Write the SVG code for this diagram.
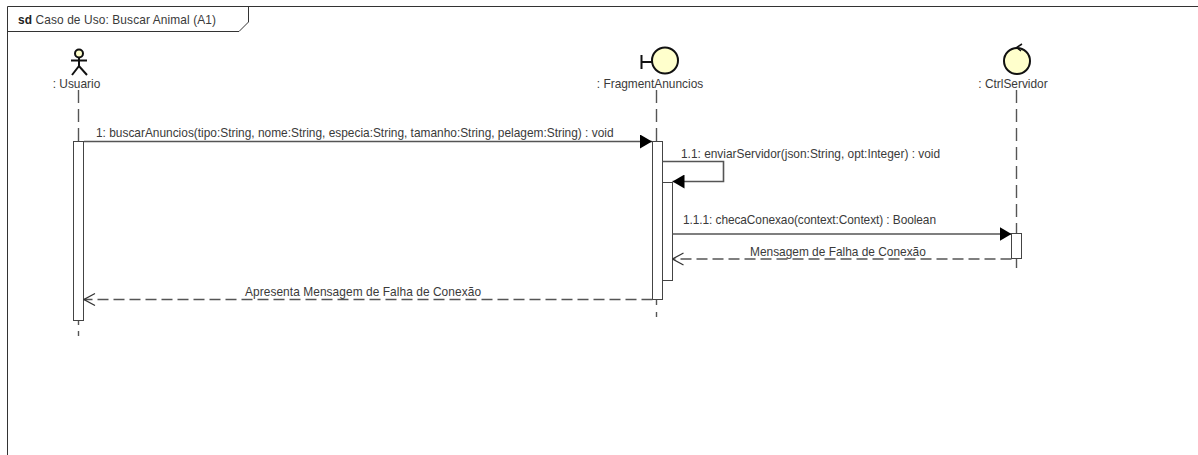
<svg xmlns="http://www.w3.org/2000/svg" width="1198" height="455" viewBox="0 0 1198 455">
<style>
text{font-family:"Liberation Sans",Arial,sans-serif;font-size:11.9px;fill:#3a3a3a}
.c{text-anchor:middle}
.ln{fill:none;stroke:#333;stroke-width:1}
.shape{fill:#ffffcc;stroke:#111;stroke-width:2}
.fig{fill:none;stroke:#111;stroke-width:2}
.life{fill:none;stroke:#555;stroke-width:1.400;stroke-dasharray:13 6}
.act{fill:#fff;stroke:#444;stroke-width:1}
.msg{fill:none;stroke:#555;stroke-width:1.600}
.ret{fill:none;stroke:#555;stroke-width:1.500;stroke-dasharray:11 5}
</style>
<defs>
<marker id="solid" markerUnits="userSpaceOnUse" markerWidth="13" markerHeight="14" refX="12" refY="7" orient="auto"><path d="M0 0L12 7L0 14Z" fill="#000"/></marker>
<marker id="open" markerUnits="userSpaceOnUse" markerWidth="13" markerHeight="14" refX="12" refY="6.5" orient="auto"><path d="M1 0.5L12 6.500L1 12.500" fill="none" stroke="#333" stroke-width="1.200"/></marker>
</defs>
<rect width="1198" height="455" fill="#fff"/>
<g id="frame">
<path class="ln" d="M1198 6.500H7.500V455"/>
<path class="ln" d="M7.500 31.500H239L248.500 22V6.500"/>
<text x="18" y="24" textLength="198"><tspan font-weight="bold" fill="#222">sd</tspan> Caso de Uso: Buscar Animal (A1)</text>
</g>
<g id="usuario">
<line class="life" x1="78.500" y1="90" x2="78.500" y2="141"/>
<line class="life" x1="78.500" y1="320" x2="78.500" y2="336" style="stroke-dasharray:5 6 10"/>
<circle class="shape" cx="79" cy="53.500" r="4"/>
<path class="fig" d="M71 60.500H87M79 57.500V66M72 75L79 66L87 75"/>
<text class="c" x="76.500" y="88">: Usuario</text>
<rect class="act" x="73.500" y="141.500" width="10" height="179"/>
</g>
<g id="fragmentAnuncios">
<line class="life" x1="656.500" y1="90" x2="656.500" y2="141"/>
<line class="life" x1="656.500" y1="300" x2="656.500" y2="317" style="stroke-dasharray:5 7 5"/>
<circle class="shape" cx="665" cy="60.500" r="13"/>
<path class="fig" d="M641.500 55V69M641.500 62H652"/>
<text class="c" x="650" y="88">: FragmentAnuncios</text>
<rect class="act" x="652.500" y="141.500" width="10" height="158"/>
<rect class="act" x="662.500" y="182.500" width="10" height="98"/>
</g>
<g id="ctrlServidor">
<line class="life" x1="1016.500" y1="90" x2="1016.500" y2="233"/>
<line class="life" x1="1016.500" y1="259" x2="1016.500" y2="268"/>
<circle class="shape" cx="1017" cy="61" r="13"/>
<path d="M1022 44L1016.500 47.500L1021 51" class="fig" style="stroke-width:1.500"/>
<text class="c" x="1013" y="88">: CtrlServidor</text>
<rect class="act" x="1011.500" y="233.500" width="10" height="25"/>
</g>
<g id="connectors">
<path class="msg" d="M84 141.500H652" marker-end="url(#solid)"/>
<path class="msg" d="M662.500 161.500H723.500V181.500H672.500" marker-end="url(#solid)"/>
<path class="msg" d="M672.500 234H1011.500" marker-end="url(#solid)"/>
<path class="ret" d="M1011.500 259H672.500" marker-end="url(#open)"/>
<path class="ret" d="M652.500 299.500H84" marker-end="url(#open)"/>
<text x="96" y="137">1: buscarAnuncios(tipo:String, nome:String, especia:String, tamanho:String, pelagem:String) : void</text>
<text x="681" y="158">1.1: enviarServidor(json:String, opt:Integer) : void</text>
<text x="683" y="224" textLength="253">1.1.1: checaConexao(context:Context) : Boolean</text>
<text x="750" y="255.500">Mensagem de Falha de Conexão</text>
<text x="245" y="295.500" textLength="236">Apresenta Mensagem de Falha de Conexão</text>
</g>
</svg>
